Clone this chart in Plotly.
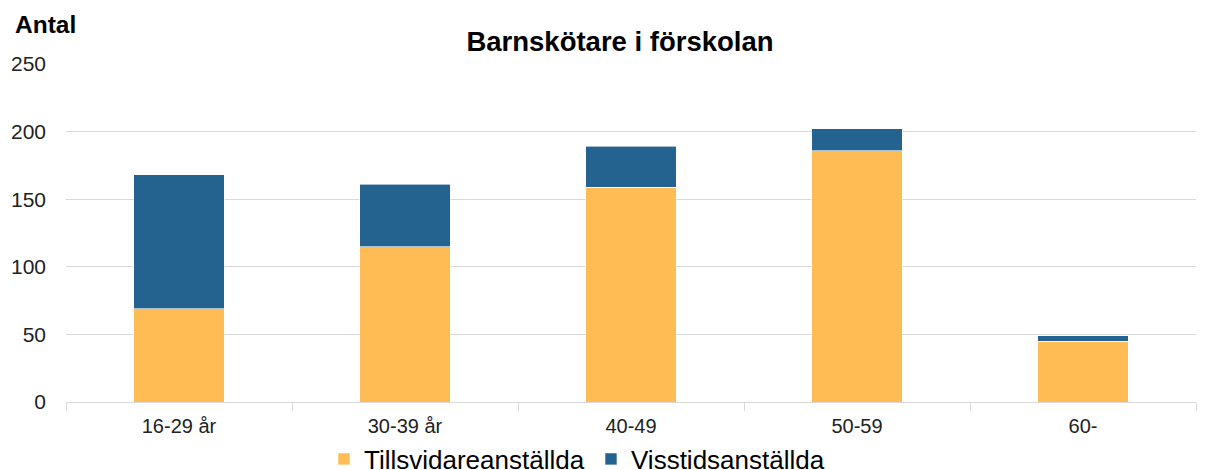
import plotly.graph_objects as go

categories = ["16-29 år", "30-39 år", "40-49", "50-59", "60-"]
tillsvidare = [69, 115, 159, 186, 45]
visstid = [99, 46, 30, 16, 4]
yticks = [0, 50, 100, 150, 200, 250]

fig = go.Figure()
fig.add_trace(go.Bar(name="Tillsvidareanställda", x=categories, y=tillsvidare,
                     marker=dict(color="#FFBC55", line=dict(color="rgba(255,255,255,0.6)", width=1))))
fig.add_trace(go.Bar(name="Visstidsanställda", x=categories, y=visstid,
                     marker=dict(color="#246290", line=dict(color="rgba(255,255,255,0.6)", width=1))))

# page body has an 8px margin; work in page coordinates and subtract it
OFF = 8
W, H = 1211 - OFF, 470 - OFF
L, T = 66 - OFF, 64 - OFF
R, B = 1211 - 1196, 470 - 402
pw, ph = W - L - R, H - T - B


def px(xp):  # page x -> paper x
    return (xp - OFF - L) / pw


def py(yp):  # page y -> paper y
    return 1 - (yp - OFF - T) / ph


fig.update_layout(
    barmode="stack",
    bargap=0.6,
    width=W, height=H,
    margin=dict(l=L, r=R, t=T, b=B, autoexpand=False),
    paper_bgcolor="white", plot_bgcolor="white",
    font=dict(family="Liberation Sans, Arial, sans-serif", size=20, color="#222"),
    title=dict(text="<b>Barnskötare i förskolan</b>", x=(620 - OFF) / W, xanchor="center",
               y=1 - (41 - OFF) / H, yanchor="middle", font=dict(size=27.5, color="#000")),
    legend=dict(orientation="h", x=px(324), xanchor="left",
                y=py(459), yanchor="middle",
                font=dict(size=26, color="#000"), itemwidth=30, traceorder="normal",
                entrywidth=222, entrywidthmode="pixels"),
    annotations=[dict(text="<b>Antal</b>", xref="paper", yref="paper", x=px(13),
                      y=py(25), xanchor="left", yanchor="middle", showarrow=False,
                      font=dict(size=24.5, color="#000"))],
)
fig.update_yaxes(range=[0, 250], tickvals=yticks, showgrid=True, gridcolor="#d9d9d9",
                 gridwidth=1, zeroline=False, showline=False, ticks="",
                 ticklabelstandoff=19, tickfont=dict(size=21, color="#222"))
fig.update_xaxes(showline=True, linecolor="#d9d9d9", linewidth=1, ticks="outside",
                 tickson="boundaries", ticklen=8, tickcolor="#d9d9d9",
                 ticklabelstandoff=6, tickfont=dict(size=20, color="#222"))

fig.write_html("out.html")
